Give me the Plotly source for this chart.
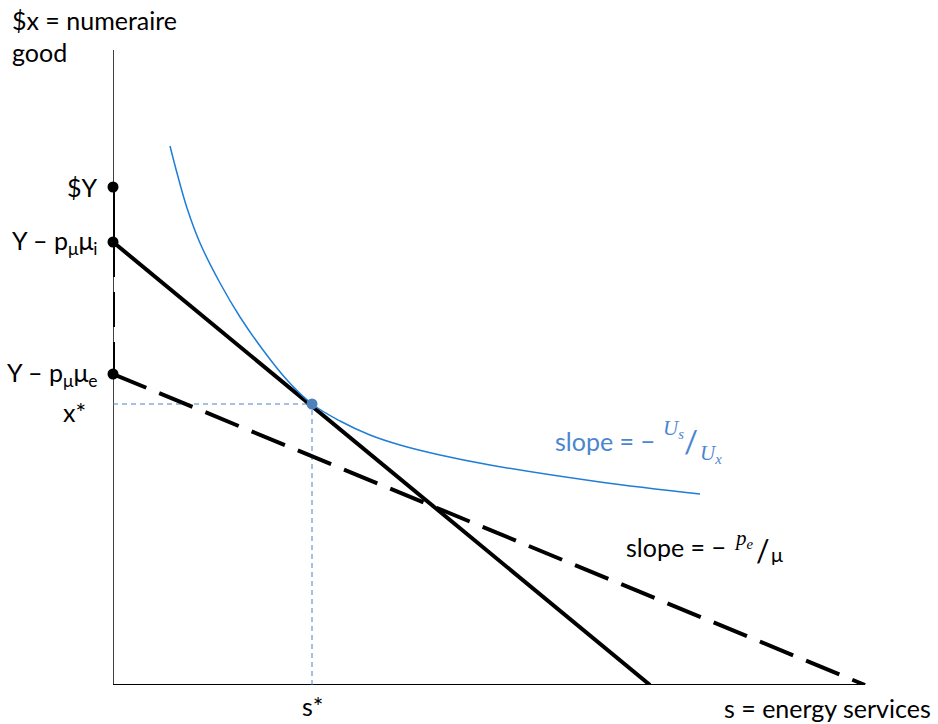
import plotly.graph_objects as go

# ---- data (units: abstract model units) ----
y_levels = [498, 443, 311]            # $Y, Y - pμ μi, Y - pμ μe
y_labels = ["$Y", "Y – p<sub>μ</sub>μ<sub>i</sub>", "Y – p<sub>μ</sub>μ<sub>e</sub>"]
solid_budget_x = [0, 537]
solid_budget_y = [443, 0]
dashed_budget_x = [0, 752]
dashed_budget_y = [311, 0]
s_star = 199
x_star = 281
ic_x = [57, 64, 74, 87, 107, 127, 150, 174, 199, 227, 257, 287, 327, 377, 487, 587]
ic_y = [539, 512, 477, 442, 402, 368, 335, 305, 281, 264, 250, 240, 230, 220, 203, 191]
x_axis_end = 752
y_axis_top = 635

X_MAX = 825
Y_MAX = 685
FONT = "Lato"
MATH = "Liberation Serif"
FS = 25
BLUE_CURVE = "#1f7dd6"
BLUE_TXT = "#4a86cf"
BLUE_DOT = "#4f81bd"

fig = go.Figure()

# axes
fig.add_trace(go.Scatter(x=[0, 0], y=[0, y_axis_top], mode="lines",
                         line=dict(color="#404040", width=2), hoverinfo="skip"))
fig.add_trace(go.Scatter(x=[0, x_axis_end], y=[0, 0], mode="lines",
                         line=dict(color="#000000", width=2), hoverinfo="skip"))

# guide lines to tangency
fig.add_trace(go.Scatter(x=[0, s_star], y=[x_star, x_star], mode="lines",
                         line=dict(color=BLUE_DOT, width=1, dash="5px,4px"), hoverinfo="skip"))
fig.add_trace(go.Scatter(x=[s_star, s_star], y=[0, x_star], mode="lines",
                         line=dict(color=BLUE_DOT, width=1, dash="5px,4px"), hoverinfo="skip"))

# vertical income segments
fig.add_trace(go.Scatter(x=[0, 0], y=[y_levels[0], y_levels[1]], mode="lines",
                         line=dict(color="black", width=4), hoverinfo="skip"))
fig.add_trace(go.Scatter(x=[0, 0], y=[y_levels[1], y_levels[2]], mode="lines",
                         line=dict(color="black", width=4, dash="35px,15px"), hoverinfo="skip"))

# budget lines
fig.add_trace(go.Scatter(x=solid_budget_x, y=solid_budget_y, mode="lines",
                         line=dict(color="black", width=4), hoverinfo="skip"))
fig.add_trace(go.Scatter(x=dashed_budget_x, y=dashed_budget_y, mode="lines",
                         line=dict(color="black", width=4, dash="36px,14px"), hoverinfo="skip"))

# indifference curve
fig.add_trace(go.Scatter(x=ic_x, y=ic_y, mode="lines",
                         line=dict(color=BLUE_CURVE, width=1.5, shape="spline", smoothing=1.0),
                         hoverinfo="skip"))

# points
fig.add_trace(go.Scatter(x=[0, 0, 0], y=y_levels, mode="markers",
                         marker=dict(color="black", size=11), hoverinfo="skip"))
fig.add_trace(go.Scatter(x=[s_star], y=[x_star], mode="markers",
                         marker=dict(color=BLUE_DOT, size=11), hoverinfo="skip"))

ann = []
def txt(x, y, t, xanchor="left", color="black", size=FS, family=FONT):
    ann.append(dict(x=x / X_MAX, y=y / Y_MAX, text=t, xref="paper", yref="paper",
                    showarrow=False, xanchor=xanchor, yanchor="middle",
                    font=dict(family=family, size=size, color=color)))

txt(-103, 665, "$x = numeraire")
txt(-103, 633, "good")
for yv, lab in zip(y_levels, y_labels):
    txt(-13, yv, lab, xanchor="right")
txt(-25, 273, "x*", xanchor="right")
txt(s_star, -21, "s*", xanchor="center")
txt(820, -23, "s = energy services", xanchor="right")

# blue slope label: slope = − Us / Ux
txt(544, 244, "slope = −", xanchor="right", color=BLUE_TXT)
txt(548, 256, "<i>U<sub>s</sub></i>", color=BLUE_TXT, size=21, family=MATH)
txt(578, 244, "/", xanchor="center", color=BLUE_TXT, size=31, family=FONT)
txt(585, 231, "<i>U<sub>x</sub></i>", color=BLUE_TXT, size=21, family=MATH)

# black slope label: slope = − pe / μ
txt(615, 138, "slope = −", xanchor="right")
txt(619, 146, "<i>p<sub>e</sub></i>", size=21, family=MATH)
txt(650, 135, "/", xanchor="center", size=30, family=FONT)
txt(656, 131, "μ", size=20)

fig.update_layout(
    width=938, height=724,
    margin=dict(l=113, r=0, t=0, b=39),
    paper_bgcolor="white", plot_bgcolor="white",
    showlegend=False,
    annotations=ann,
    xaxis=dict(range=[0, X_MAX], visible=False, fixedrange=True),
    yaxis=dict(range=[0, Y_MAX], visible=False, fixedrange=True),
)
fig.update_traces(cliponaxis=False)

fig.write_html("out.html")
